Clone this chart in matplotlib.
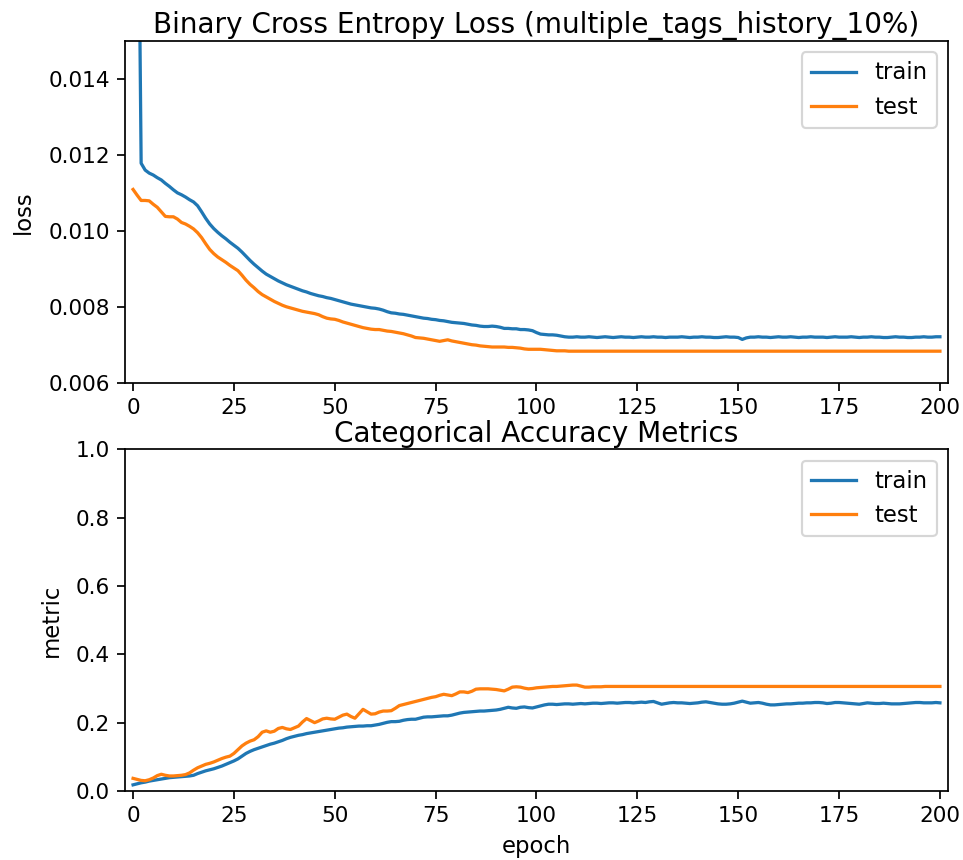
import matplotlib
matplotlib.use("Agg")
import matplotlib.pyplot as plt
import numpy as np

# ---- training history (one value per epoch, 0..200) ----
train_loss = [
    0.06000, 0.02300, 0.01178, 0.01160, 0.01152, 0.01147, 0.01140, 0.01134, 0.01125, 0.01117,
    0.01108, 0.01100, 0.01095, 0.01089, 0.01082, 0.01076, 0.01066, 0.01050, 0.01033, 0.01018,
    0.01006, 0.00996, 0.00987, 0.00979, 0.00970, 0.00962, 0.00954, 0.00944, 0.00933, 0.00922,
    0.00912, 0.00903, 0.00894, 0.00886, 0.00880, 0.00874, 0.00868, 0.00863, 0.00858, 0.00854,
    0.00850, 0.00846, 0.00842, 0.00839, 0.00835, 0.00832, 0.00829, 0.00827, 0.00824, 0.00822,
    0.00819, 0.00816, 0.00813, 0.00810, 0.00807, 0.00805, 0.00803, 0.00801, 0.00799, 0.00797,
    0.00796, 0.00794, 0.00791, 0.00787, 0.00784, 0.00783, 0.00781, 0.00780, 0.00778, 0.00776,
    0.00774, 0.00772, 0.00770, 0.00769, 0.00767, 0.00766, 0.00764, 0.00763, 0.00761, 0.00759,
    0.00758, 0.00757, 0.00756, 0.00754, 0.00752, 0.00751, 0.00749, 0.00748, 0.00748, 0.00749,
    0.00748, 0.00746, 0.00743, 0.00743, 0.00742, 0.00742, 0.00740, 0.00740, 0.00739, 0.00737,
    0.00732, 0.00728, 0.00727, 0.00726, 0.00726, 0.00725, 0.00723, 0.00721, 0.00720, 0.00720,
    0.00721, 0.00720, 0.00720, 0.00721, 0.00720, 0.00719, 0.00720, 0.00721, 0.00720, 0.00719,
    0.00720, 0.00721, 0.00720, 0.00720, 0.00719, 0.00720, 0.00721, 0.00720, 0.00720, 0.00721,
    0.00720, 0.00720, 0.00719, 0.00720, 0.00720, 0.00720, 0.00721, 0.00720, 0.00719, 0.00720,
    0.00720, 0.00721, 0.00720, 0.00720, 0.00719, 0.00719, 0.00720, 0.00721, 0.00720, 0.00720,
    0.00719, 0.00714, 0.00718, 0.00720, 0.00720, 0.00721, 0.00720, 0.00720, 0.00719, 0.00720,
    0.00721, 0.00720, 0.00720, 0.00721, 0.00720, 0.00719, 0.00720, 0.00720, 0.00721, 0.00720,
    0.00720, 0.00720, 0.00719, 0.00720, 0.00721, 0.00720, 0.00720, 0.00720, 0.00721, 0.00720,
    0.00719, 0.00720, 0.00720, 0.00721, 0.00720, 0.00720, 0.00719, 0.00719, 0.00720, 0.00721,
    0.00720, 0.00720, 0.00719, 0.00719, 0.00720, 0.00720, 0.00721, 0.00720, 0.00720, 0.00721,
    0.00721,
]

test_loss = [
    0.01109, 0.01094, 0.01080, 0.01080, 0.01079, 0.01070, 0.01062, 0.01050, 0.01038, 0.01037,
    0.01037, 0.01031, 0.01022, 0.01018, 0.01012, 0.01005, 0.00995, 0.00982, 0.00966, 0.00951,
    0.00940, 0.00931, 0.00924, 0.00917, 0.00909, 0.00902, 0.00895, 0.00883, 0.00870, 0.00859,
    0.00850, 0.00840, 0.00832, 0.00826, 0.00820, 0.00814, 0.00809, 0.00804, 0.00800, 0.00797,
    0.00794, 0.00791, 0.00788, 0.00786, 0.00784, 0.00782, 0.00779, 0.00774, 0.00770, 0.00768,
    0.00767, 0.00764, 0.00760, 0.00757, 0.00754, 0.00751, 0.00748, 0.00745, 0.00743, 0.00741,
    0.00740, 0.00740, 0.00738, 0.00736, 0.00735, 0.00733, 0.00731, 0.00729, 0.00726, 0.00723,
    0.00719, 0.00718, 0.00717, 0.00715, 0.00713, 0.00711, 0.00709, 0.00711, 0.00713, 0.00710,
    0.00708, 0.00706, 0.00704, 0.00702, 0.00700, 0.00699, 0.00697, 0.00696, 0.00695, 0.00694,
    0.00694, 0.00694, 0.00694, 0.00693, 0.00693, 0.00692, 0.00691, 0.00689, 0.00688, 0.00688,
    0.00688, 0.00688, 0.00687, 0.00686, 0.00685, 0.00684, 0.00684, 0.00684, 0.00683, 0.00683,
    0.00683, 0.00683, 0.00683, 0.00683, 0.00683, 0.00683, 0.00683, 0.00683, 0.00683, 0.00683,
    0.00683, 0.00683, 0.00683, 0.00683, 0.00683, 0.00683, 0.00683, 0.00683, 0.00683, 0.00683,
    0.00683, 0.00683, 0.00683, 0.00683, 0.00683, 0.00683, 0.00683, 0.00683, 0.00683, 0.00683,
    0.00683, 0.00683, 0.00683, 0.00683, 0.00683, 0.00683, 0.00683, 0.00683, 0.00683, 0.00683,
    0.00683, 0.00683, 0.00683, 0.00683, 0.00683, 0.00683, 0.00683, 0.00683, 0.00683, 0.00683,
    0.00683, 0.00683, 0.00683, 0.00683, 0.00683, 0.00683, 0.00683, 0.00683, 0.00683, 0.00683,
    0.00683, 0.00683, 0.00683, 0.00683, 0.00683, 0.00683, 0.00683, 0.00683, 0.00683, 0.00683,
    0.00683, 0.00683, 0.00683, 0.00683, 0.00683, 0.00683, 0.00683, 0.00683, 0.00683, 0.00683,
    0.00683, 0.00683, 0.00683, 0.00683, 0.00683, 0.00683, 0.00683, 0.00683, 0.00683, 0.00683,
    0.00683,
]

train_metric = [
    0.018, 0.021, 0.024, 0.026, 0.029, 0.031, 0.033, 0.035, 0.037, 0.039,
    0.040, 0.041, 0.042, 0.043, 0.044, 0.046, 0.051, 0.055, 0.059, 0.062,
    0.065, 0.069, 0.073, 0.078, 0.083, 0.088, 0.094, 0.102, 0.110, 0.116,
    0.121, 0.125, 0.129, 0.133, 0.137, 0.140, 0.144, 0.148, 0.153, 0.157,
    0.160, 0.163, 0.165, 0.168, 0.170, 0.172, 0.174, 0.176, 0.178, 0.180,
    0.182, 0.184, 0.185, 0.187, 0.188, 0.189, 0.190, 0.190, 0.191, 0.191,
    0.193, 0.195, 0.198, 0.201, 0.203, 0.203, 0.204, 0.207, 0.209, 0.210,
    0.210, 0.213, 0.216, 0.217, 0.217, 0.218, 0.219, 0.220, 0.220, 0.222,
    0.225, 0.228, 0.230, 0.231, 0.232, 0.233, 0.234, 0.234, 0.235, 0.236,
    0.237, 0.239, 0.242, 0.245, 0.243, 0.242, 0.245, 0.246, 0.244, 0.243,
    0.246, 0.249, 0.252, 0.254, 0.254, 0.253, 0.254, 0.255, 0.255, 0.254,
    0.255, 0.256, 0.255, 0.256, 0.257, 0.257, 0.256, 0.257, 0.258, 0.258,
    0.257, 0.258, 0.259, 0.259, 0.258, 0.259, 0.260, 0.259, 0.261, 0.262,
    0.258, 0.254, 0.256, 0.258, 0.259, 0.258, 0.258, 0.257, 0.256, 0.257,
    0.258, 0.260, 0.261, 0.259, 0.257, 0.255, 0.254, 0.254, 0.255, 0.257,
    0.260, 0.263, 0.260, 0.257, 0.258, 0.259, 0.257, 0.254, 0.252, 0.252,
    0.253, 0.254, 0.255, 0.255, 0.256, 0.257, 0.257, 0.258, 0.258, 0.259,
    0.259, 0.258, 0.256, 0.257, 0.259, 0.259, 0.258, 0.257, 0.256, 0.255,
    0.254, 0.256, 0.258, 0.257, 0.256, 0.256, 0.257, 0.256, 0.255, 0.255,
    0.255, 0.256, 0.257, 0.258, 0.259, 0.259, 0.258, 0.258, 0.258, 0.259,
    0.258,
]

test_metric = [
    0.037, 0.034, 0.031, 0.030, 0.033, 0.038, 0.045, 0.049, 0.046, 0.044,
    0.044, 0.045, 0.046, 0.048, 0.053, 0.061, 0.068, 0.073, 0.078, 0.081,
    0.085, 0.090, 0.095, 0.099, 0.102, 0.110, 0.121, 0.132, 0.140, 0.146,
    0.150, 0.159, 0.172, 0.176, 0.172, 0.175, 0.183, 0.186, 0.182, 0.180,
    0.185, 0.190, 0.202, 0.212, 0.206, 0.200, 0.205, 0.211, 0.213, 0.211,
    0.210, 0.216, 0.222, 0.225, 0.218, 0.213, 0.226, 0.239, 0.232, 0.225,
    0.226, 0.231, 0.234, 0.234, 0.235, 0.242, 0.250, 0.253, 0.256, 0.259,
    0.262, 0.265, 0.268, 0.271, 0.274, 0.276, 0.280, 0.283, 0.281, 0.279,
    0.284, 0.290, 0.290, 0.288, 0.292, 0.298, 0.299, 0.299, 0.299, 0.298,
    0.297, 0.295, 0.293, 0.298, 0.304, 0.305, 0.304, 0.301, 0.299, 0.300,
    0.302, 0.303, 0.304, 0.305, 0.306, 0.306, 0.307, 0.308, 0.309, 0.310,
    0.310, 0.307, 0.304, 0.304, 0.305, 0.305, 0.305, 0.306, 0.306, 0.306,
    0.306, 0.306, 0.306, 0.306, 0.306, 0.306, 0.306, 0.306, 0.306, 0.306,
    0.306, 0.306, 0.306, 0.306, 0.306, 0.306, 0.306, 0.306, 0.306, 0.306,
    0.306, 0.306, 0.306, 0.306, 0.306, 0.306, 0.306, 0.306, 0.306, 0.306,
    0.306, 0.306, 0.306, 0.306, 0.306, 0.306, 0.306, 0.306, 0.306, 0.306,
    0.306, 0.306, 0.306, 0.306, 0.306, 0.306, 0.306, 0.306, 0.306, 0.306,
    0.306, 0.306, 0.306, 0.306, 0.306, 0.306, 0.306, 0.306, 0.306, 0.306,
    0.306, 0.306, 0.306, 0.306, 0.306, 0.306, 0.306, 0.306, 0.306, 0.306,
    0.306, 0.306, 0.306, 0.306, 0.306, 0.306, 0.306, 0.306, 0.306, 0.306,
    0.306,
]

epochs = np.arange(len(train_loss))
series_labels = ["train", "test"]

DPI = 156
TITLE_SIZE = 12.85
LABEL_SIZE = 10.5
LEGEND_SIZE = 10.5

fig = plt.figure(figsize=(963 / DPI, 860 / DPI), dpi=DPI)
ax1 = fig.add_axes([125 / 963, 1 - 382.7 / 860, 823 / 963, 341.7 / 860])
ax2 = fig.add_axes([125 / 963, 1 - 791 / 860, 823 / 963, 341.7 / 860])

# loss panel
ax1.plot(epochs, train_loss, label=series_labels[0])
ax1.plot(epochs, test_loss, label=series_labels[1])
ax1.set_title("Binary Cross Entropy Loss (multiple_tags_history_10%)",
              fontsize=TITLE_SIZE, pad=3.5)
ax1.set_ylabel("loss", fontsize=LABEL_SIZE, labelpad=6)
ax1.set_ylim(0.006, 0.015)
ax1.set_xlim(-2, 202)
ax1.legend(loc="upper right", fontsize=LEGEND_SIZE)

# accuracy panel
ax2.plot(epochs, train_metric, label=series_labels[0])
ax2.plot(epochs, test_metric, label=series_labels[1])
ax2.set_title("Categorical Accuracy Metrics", fontsize=TITLE_SIZE, pad=3.5)
ax2.set_ylabel("metric", fontsize=LABEL_SIZE, labelpad=6)
ax2.set_xlabel("epoch", fontsize=LABEL_SIZE)
ax2.set_ylim(0, 1)
ax2.set_xlim(-2, 202)
ax2.legend(loc="upper right", fontsize=LEGEND_SIZE)

fig.savefig("out.png", dpi=DPI)
